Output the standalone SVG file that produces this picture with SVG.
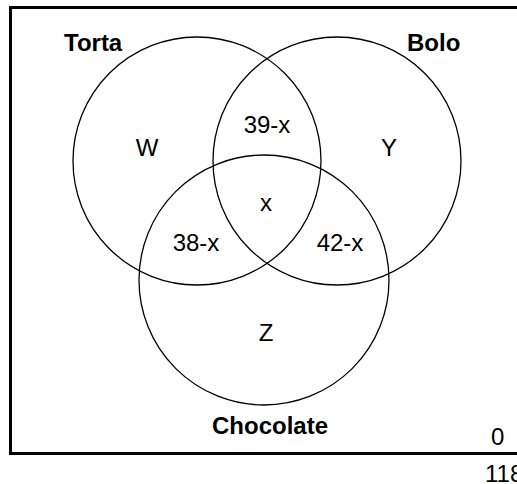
<svg xmlns="http://www.w3.org/2000/svg" width="517" height="484" viewBox="0 0 517 484">
<style>
.set{fill:none;stroke:#000;stroke-width:1.3}
.frame{fill:none;stroke:#000;stroke-width:3}
text{font-family:"Liberation Sans",Arial,sans-serif;font-size:24px;fill:#000}
.b{font-weight:bold}
.m{text-anchor:middle}
</style>
<rect width="517" height="484" fill="#fff"/>
<path class="frame" d="M517,7.5 H10.5 V453.5 H517"/>
<g id="torta"><circle class="set" cx="197" cy="161" r="124"/><text class="b" x="64" y="51">Torta</text></g>
<g id="bolo"><circle class="set" cx="337" cy="161" r="124"/><text class="b" x="407" y="51">Bolo</text></g>
<g id="chocolate"><circle class="set" cx="264" cy="280" r="125"/><text class="b m" x="270" y="434">Chocolate</text></g>
<g id="regions">
<text class="m" x="147" y="156">W</text>
<text class="m" x="267" y="133">39-x</text>
<text class="m" x="389" y="156">Y</text>
<text class="m" x="266" y="211">x</text>
<text class="m" x="196" y="251">38-x</text>
<text class="m" x="340" y="251">42-x</text>
<text class="m" x="266" y="341">Z</text>
</g>
<text x="491" y="445">0</text>
<text x="485" y="482">118</text>
</svg>
